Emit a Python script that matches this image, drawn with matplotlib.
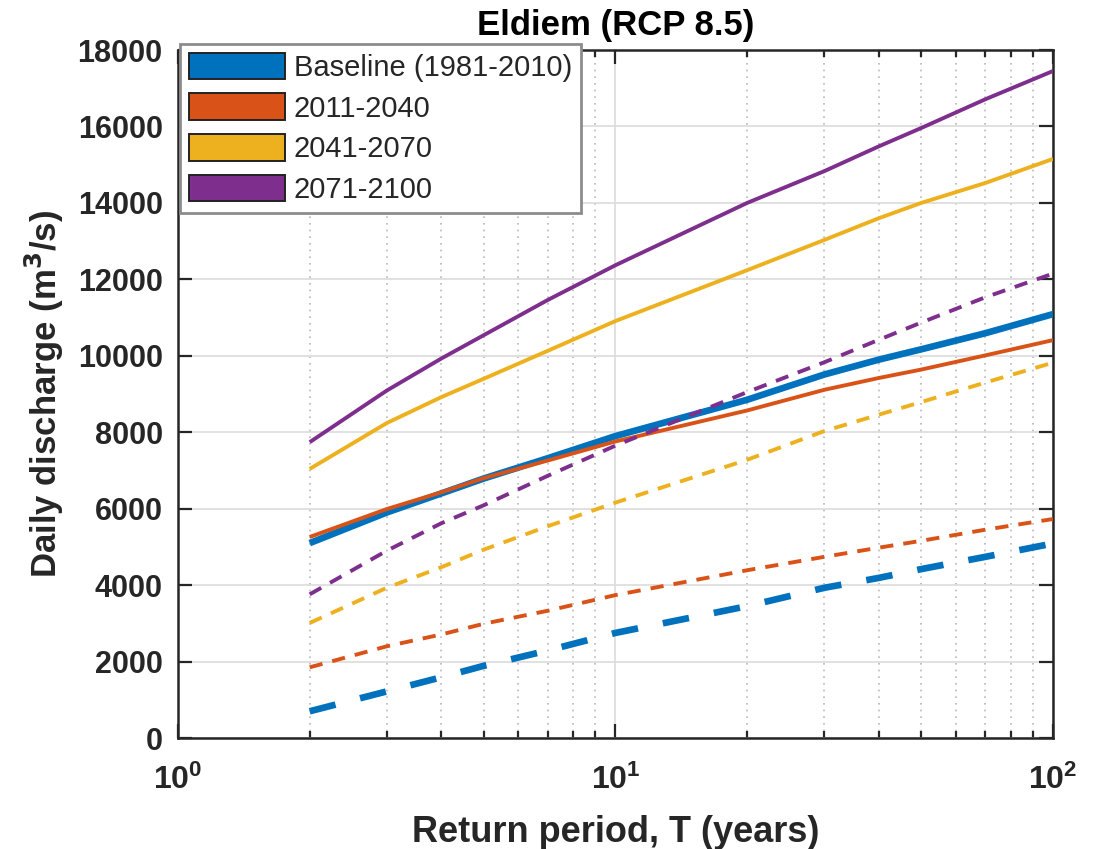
import numpy as np
import matplotlib
matplotlib.use("Agg")
import matplotlib.pyplot as plt
from matplotlib.patches import Patch

plt.rcParams['font.family'] = ['Liberation Sans', 'DejaVu Sans']

# return periods (years)
T = [2, 3, 4, 5, 7, 10, 20, 30, 40, 50, 70, 100]

# solid lines
baseline_solid = [5100, 5900, 6400, 6790, 7320, 7900, 8850, 9510, 9900, 10170, 10590, 11090]
p2011_solid = [5260, 5990, 6430, 6800, 7260, 7760, 8570, 9110, 9420, 9640, 10010, 10410]
p2041_solid = [7040, 8240, 8920, 9400, 10130, 10910, 12240, 13030, 13600, 14000, 14520, 15150]
p2071_solid = [7740, 9090, 9930, 10540, 11460, 12370, 14000, 14830, 15480, 15960, 16710, 17450]

# dashed lines
baseline_dash = [700, 1220, 1590, 1890, 2290, 2750, 3450, 3930, 4190, 4420, 4740, 5090]
p2011_dash = [1850, 2400, 2710, 2990, 3330, 3740, 4390, 4740, 4980, 5160, 5450, 5730]
p2041_dash = [3010, 3930, 4470, 4930, 5540, 6160, 7280, 8030, 8460, 8790, 9300, 9820]
p2071_dash = [3760, 4900, 5620, 6090, 6860, 7650, 9050, 9830, 10420, 10870, 11530, 12150]

labels = ["Baseline (1981-2010)", "2011-2040", "2041-2070", "2071-2100"]
colors = ["#0072BD", "#D95319", "#EDB120", "#7E2F8E"]

fig = plt.figure(figsize=(11.09, 8.49), dpi=100)
ax = fig.add_axes([0.1605, 0.1307, 0.789, 0.8104])

solids = [baseline_solid, p2011_solid, p2041_solid, p2071_solid]
dashes = [baseline_dash, p2011_dash, p2041_dash, p2071_dash]
for i, (s, d, c) in enumerate(zip(solids, dashes, colors)):
    lw = 4.8 if i == 0 else 2.8
    ax.plot(T, s, color=c, lw=lw, solid_capstyle='butt', zorder=3)
    ax.plot(T, d, color=c, lw=lw, dashes=(4.0, 3.8) if i == 0 else (3.4, 2.6),
            dash_capstyle='butt', zorder=3)

ax.set_xscale('log')
ax.set_xlim(1, 100)
ax.set_ylim(0, 18000)
ax.set_yticks(np.arange(0, 18001, 2000))

ax.grid(True, which='major', color='#dcdcdc', lw=1.2, ls='-')
ax.grid(True, which='minor', axis='x', color='#b8b8b8', lw=1.2, ls=(0, (1, 3)))
ax.set_axisbelow(True)

ax.tick_params(which='both', direction='in', top=True, right=True, width=1.6, color='#262626')
ax.tick_params(which='major', length=10)
ax.tick_params(which='minor', length=5)
ax.tick_params(axis='y', labelsize=22, pad=11)
ax.tick_params(axis='x', labelsize=23, pad=19)
for lab in ax.get_yticklabels() + ax.get_xticklabels():
    lab.set_fontweight('bold')
    lab.set_color('#262626')
for sp in ax.spines.values():
    sp.set_linewidth(1.8)
    sp.set_color('#262626')

ax.set_title("Eldiem (RCP 8.5)", fontsize=25, fontweight='bold', pad=11)
ax.set_xlabel("Return period, T (years)", fontsize=26, fontweight='bold', labelpad=14,
              color='#262626')
ax.set_ylabel("Daily discharge (m$^\\mathbf{3}$/s)", fontsize=25, fontweight='bold',
              labelpad=8, color='#262626')

handles = [Patch(facecolor=c, edgecolor='#222222', lw=1.4) for c in colors]
leg = ax.legend(handles, labels, loc='upper left', bbox_to_anchor=(180 / 1109, 1 - 44 / 849),
                bbox_transform=fig.transFigure, fontsize=21, handlelength=3.3,
                handleheight=1.03, labelspacing=0.39, handletextpad=0.3,
                borderpad=0.3, borderaxespad=0, fancybox=False, framealpha=1)
leg.get_frame().set_edgecolor('#8c8c8c')
leg.get_frame().set_linewidth(2.0)
for t in leg.get_texts():
    t.set_color('#262626')

fig.savefig("out.png", dpi=100)
